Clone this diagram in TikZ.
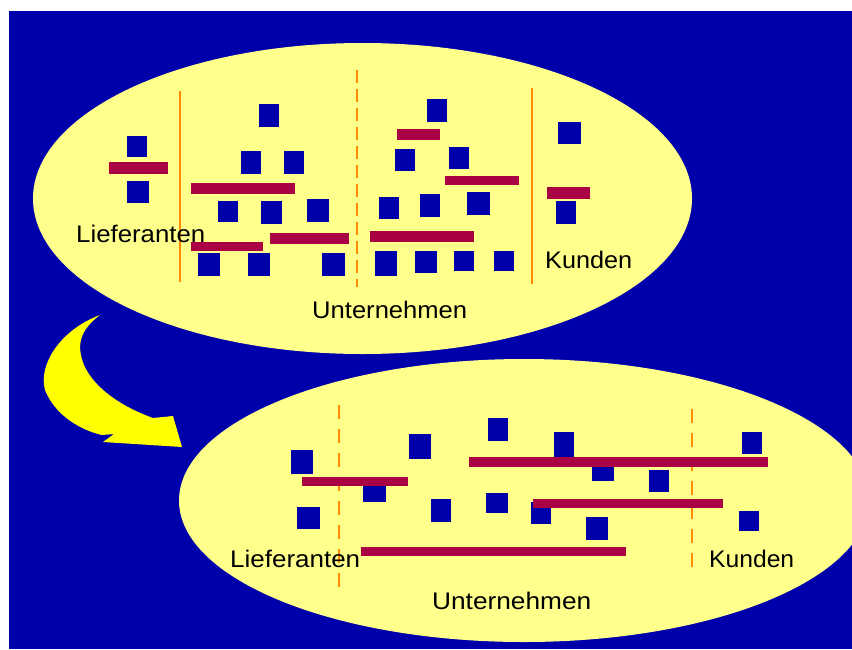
\documentclass[tikz,border=0pt]{standalone}
\usepackage{fontspec}
\usepackage{graphicx}
\setmainfont{Liberation Sans}
\definecolor{bgblue}{RGB}{0,0,170}
\definecolor{pale}{RGB}{255,255,140}
\definecolor{barred}{RGB}{170,0,68}
\definecolor{divider}{RGB}{255,140,0}
\definecolor{arrowyellow}{RGB}{255,255,0}
\tikzset{
  sq/.style={fill=bgblue},
  bar/.style={fill=barred},
  solidline/.style={draw=divider, line width=2pt},
  dashline/.style={draw=divider, line width=2pt, dash pattern=on 13pt off 6pt},
  dashlinewide/.style={draw=divider, line width=2pt, dash pattern=on 14pt off 10pt},
  lbl/.style={anchor=base west, inner sep=0pt, text=black, font=\fontsize{24}{24}\selectfont}
}
\newcommand{\wlabel}[2]{\resizebox{#1}{\height}{#2}}
\begin{document}
\begin{tikzpicture}[x=1pt, y=-1pt]
  \useasboundingbox (0,0) rectangle (852,649);
  % page background
  \fill[white] (0,0) rectangle (852,649);
  \fill[bgblue] (9,11) rectangle (852,649);

  % the two bubbles
  \fill[pale] (362.5,198.5) ellipse [x radius=329.5, y radius=155.5];
  \fill[pale] (524,500.5) ellipse [x radius=345, y radius=141.5];

  % curved transition arrow
  \fill[arrowyellow] (100,315)
    .. controls (60,330) and (38,365) .. (45,390)
    .. controls (55,415) and (80,430) .. (102,435)
    -- (114,434) -- (103,442) -- (182,447) -- (173,416) -- (153,418)
    .. controls (125,408) and (95,390) .. (84,365)
    .. controls (76,345) and (80,330) .. (100,315) -- cycle;

  % dividers, upper bubble
  \draw[solidline] (180,91) -- (180,282);
  \draw[dashline] (357,70) -- (357,287);
  \draw[solidline] (532,88) -- (532,284);
  % dividers, lower bubble
  \draw[dashlinewide] (339,405) -- (339,587);
  \draw[dashlinewide] (692,409) -- (692,573);

  % units, upper bubble
  \foreach \a/\b/\c/\d in {
    127/136/147/157, 127/181/149/203,
    259/104/279/127, 241/151/261/174, 284/151/304/174,
    218/201/238/222, 261/201/282/224, 307/199/329/222,
    198/253/220/276, 248/253/270/276, 322/253/345/276,
    427/99/447/122, 395/149/415/171, 449/147/469/169,
    379/197/399/219, 420/194/440/217, 467/192/490/215,
    375/251/397/276, 415/251/437/273, 454/251/474/271, 494/251/514/271,
    558/122/581/144, 556/201/576/224}
    \fill[sq] (\a,\b) rectangle (\c,\d);
  % links, upper bubble
  \foreach \a/\b/\c/\d in {
    109/162/168/174, 191/183/295/194, 270/233/349/244, 191/242/263/251,
    397/129/440/140, 445/176/519/185, 370/231/474/242, 547/187/590/199}
    \fill[bar] (\a,\b) rectangle (\c,\d);

  % units, lower bubble
  \foreach \a/\b/\c/\d in {
    291/450/313/474, 363/480/386/502, 297/507/320/529,
    409/434/431/459, 488/418/508/441, 554/432/574/457,
    592/460/614/481, 649/470/669/492, 431/499/451/522,
    486/493/508/513, 531/502/551/524, 586/517/608/540,
    742/432/762/454, 739/511/759/531}
    \fill[sq] (\a,\b) rectangle (\c,\d);
  % links, lower bubble
  \foreach \a/\b/\c/\d in {
    302/477/408/486, 469/457/768/467, 533/499/723/508, 361/547/626/556}
    \fill[bar] (\a,\b) rectangle (\c,\d);

  % labels
  \node[lbl] (lief1) at (76,242) {\wlabel{129pt}{Lieferanten}};
  \node[lbl] (kund1) at (545,268) {\wlabel{87pt}{Kunden}};
  \node[lbl] (unt1) at (312,318) {\wlabel{155pt}{Unternehmen}};
  \node[lbl] (lief2) at (230,567) {\wlabel{130pt}{Lieferanten}};
  \node[lbl] (kund2) at (709,567) {\wlabel{85pt}{Kunden}};
  \node[lbl] (unt2) at (432,609) {\wlabel{159pt}{Unternehmen}};
\end{tikzpicture}
\end{document}
